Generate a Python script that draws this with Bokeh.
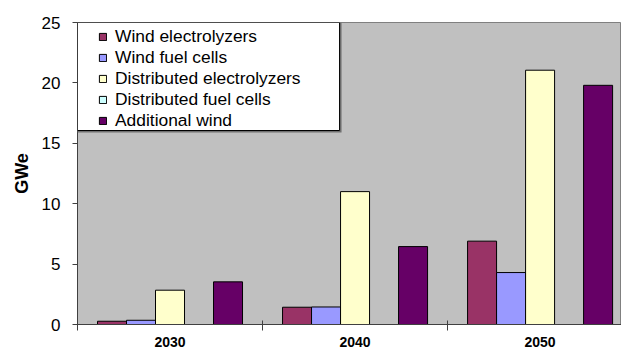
from bokeh.plotting import figure
from bokeh.models import ColumnDataSource, Range1d, FixedTicker, Legend, LegendItem, BoxAnnotation
from bokeh.transform import dodge
from bokeh.embed import file_html
from bokeh.resources import INLINE

years = ["2030", "2040", "2050"]
series_names = ["Wind electrolyzers", "Wind fuel cells", "Distributed electrolyzers",
                "Distributed fuel cells", "Additional wind"]
wind_electrolyzers = [0.27, 1.43, 6.9]
wind_fuel_cells = [0.35, 1.45, 4.3]
distributed_electrolyzers = [2.84, 11.0, 21.05]
distributed_fuel_cells = [0.0, 0.0, 0.0]
additional_wind = [3.53, 6.45, 19.8]
colors = ["#993366", "#9999FF", "#FFFFCC", "#CCFFFF", "#660066"]
y_ticks = [0, 5, 10, 15, 20, 25]

series = [wind_electrolyzers, wind_fuel_cells, distributed_electrolyzers,
          distributed_fuel_cells, additional_wind]

centers = [i + 0.5 for i in range(len(years))]
data = {"x": centers}
for name, vals in zip(series_names, series):
    data[name] = vals
src = ColumnDataSource(data)

p = figure(width=621, height=354, output_backend="svg", toolbar_location=None,
           x_range=Range1d(0, 2.94), y_range=Range1d(0, 25),
           min_border_left=77, min_border_right=0, min_border_top=22, min_border_bottom=30)
p.background_fill_color = "#C0C0C0"
p.border_fill_color = "white"
p.outline_line_color = "#808080"
p.outline_line_width = 1
p.xgrid.visible = False
p.ygrid.visible = False

bw = 29 / 185.0
items = []
for k, (name, col) in enumerate(zip(series_names, colors)):
    r = p.vbar(x=dodge("x", (k - 2) * bw, range=p.x_range), top=name, width=bw, bottom=0,
               source=src, fill_color=col, line_color="black", line_width=1)
    items.append(LegendItem(label=name, renderers=[r]))

# legend box with a small drop shadow
px_x = 1 / 185.0
px_y = 1 / 12.08
box_right = (339 - 77) / 185.0
box_bottom = 25 - 108 / 12.08
shadow = BoxAnnotation(left=0, right=box_right + 2 * px_x, top=25, bottom=box_bottom - 2 * px_y,
                       fill_color="#707070", fill_alpha=1.0, line_color=None, level="overlay")
p.add_layout(shadow)
box = BoxAnnotation(left=0, right=box_right, top=25, bottom=box_bottom,
                    fill_color="white", fill_alpha=1.0, line_color="black", line_width=1,
                    line_alpha=1.0, level="overlay")
p.add_layout(box)

legend = Legend(items=items, location=(21, 193))
legend.background_fill_alpha = 0
legend.border_line_color = None
legend.padding = 4
legend.margin = 0
legend.spacing = 0
legend.glyph_width = 9
legend.glyph_height = 9
legend.label_height = 20
legend.label_standoff = 8
legend.label_text_font = "Liberation Sans"
legend.label_text_font_size = "17.4px"
legend.label_text_color = "black"
legend.level = "overlay"
p.add_layout(legend, "center")

# x axis
xa = p.xaxis[0]
xa.ticker = FixedTicker(ticks=centers, minor_ticks=[0, 1, 2, 3])
xa.major_label_overrides = {c: y for c, y in zip(centers, years)}
xa.major_tick_in = 0
xa.major_tick_out = 0
xa.minor_tick_in = 4
xa.minor_tick_out = 6
xa.minor_tick_line_color = "#404040"
xa.axis_line_color = "#404040"
xa.major_label_text_font = "Liberation Sans"
xa.major_label_text_font_style = "bold"
xa.major_label_text_font_size = "14px"
xa.major_label_text_color = "black"
xa.major_label_standoff = 6

# y axis
ya = p.yaxis[0]
ya.ticker = FixedTicker(ticks=y_ticks, minor_ticks=[])
ya.major_tick_in = 0
ya.major_tick_out = 5
ya.major_tick_line_color = "#404040"
ya.axis_line_color = "#404040"
ya.major_label_text_font = "Liberation Sans"
ya.major_label_text_font_size = "17px"
ya.major_label_text_color = "black"
ya.major_label_standoff = 12
ya.axis_label = "GWe"
ya.axis_label_text_font = "Liberation Sans"
ya.axis_label_text_font_style = "bold"
ya.axis_label_text_font_size = "18px"
ya.axis_label_text_color = "black"
ya.axis_label_standoff = 7

open("out.html", "w").write(file_html(p, INLINE))
